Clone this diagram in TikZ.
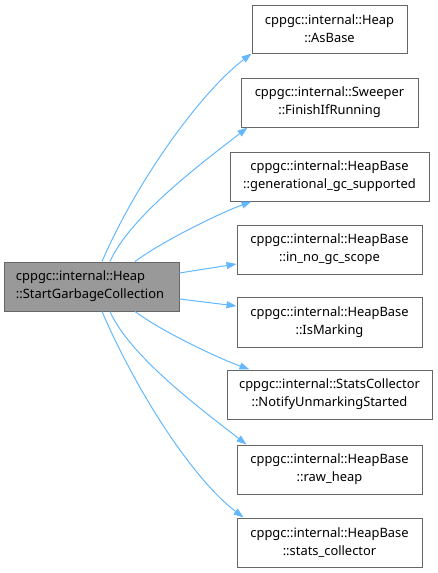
\documentclass[tikz,border=0pt]{standalone}
\usepackage{fontspec}
\setmainfont{Noto Sans}
\usetikzlibrary{arrows.meta,calc}
\definecolor{edgeblue}{HTML}{63B8FF}
\definecolor{boxborder}{HTML}{666666}
\definecolor{mainfill}{HTML}{999999}
\begin{document}
\begin{tikzpicture}[x=1pt,y=-1pt,
  fnbox/.style={draw=boxborder,line width=1pt,fill=white,inner sep=0pt,minimum height=49pt,
    font=\fontsize{12.9pt}{18pt}\selectfont,align=center},
  mainbox/.style={fnbox,fill=mainfill,align=left,text width=151pt},
  callarrow/.style={draw=edgeblue,line width=1pt,-{Triangle[length=10pt,width=7pt]}}]
\useasboundingbox (0,0) rectangle (438,573);
\node[mainbox,minimum width=175pt] (main) at (91.5,286.5) {cppgc::internal::Heap\\::StartGarbageCollection};
\node[fnbox,minimum width=155pt,minimum height=48pt] (b1) at (329.5,29) {cppgc::internal::Heap\\::AsBase};
\node[fnbox,minimum width=177pt] (b2) at (329.5,102.5) {cppgc::internal::Sweeper\\::FinishIfRunning};
\node[fnbox,minimum width=199pt] (b3) at (329.5,176.5) {cppgc::internal::HeapBase\\::generational\_gc\_supported};
\node[fnbox,minimum width=185pt] (b4) at (329.5,249.5) {cppgc::internal::HeapBase\\::in\_no\_gc\_scope};
\node[fnbox,minimum width=185pt,minimum height=50pt] (b5) at (329.5,322) {cppgc::internal::HeapBase\\::IsMarking};
\node[fnbox,minimum width=205pt] (b6) at (329.5,394.5) {cppgc::internal::StatsCollector\\::NotifyUnmarkingStarted};
\node[fnbox,minimum width=185pt] (b7) at (329.5,469.5) {cppgc::internal::HeapBase\\::raw\_heap};
\node[fnbox,minimum width=185pt] (b8) at (329.5,542.5) {cppgc::internal::HeapBase\\::stats\_collector};

\draw[callarrow] ([xshift=10.5pt]main.north) .. controls +(35,-81) and +(-51,39) .. (b1.south west);
\draw[callarrow] ([xshift=18.5pt]main.north) .. controls +(20,-45) and +(-45,35) .. ([xshift=7pt]b2.south west);
\draw[callarrow] ([xshift=43.5pt]main.north) .. controls +(30,-22) and +(-30,11) .. ([xshift=22pt]b3.south west);
\draw[callarrow] ([yshift=13.5pt]main.east) -- ([yshift=-14.5pt]b4.west);
\draw[callarrow] ([yshift=-12.5pt]main.east) -- ([yshift=16pt]b5.west);
\draw[callarrow] ([xshift=43.5pt]main.south) .. controls +(30,22) and +(-30,-11) .. ([xshift=23pt]b6.north west);
\draw[callarrow] ([xshift=18.5pt]main.south) .. controls +(20,45) and +(-45,-35) .. ([xshift=10pt]b7.north west);
\draw[callarrow] ([xshift=10.5pt]main.south) .. controls +(35,81) and +(-51,-39) .. ([xshift=7pt]b8.north west);
\end{tikzpicture}
\end{document}
